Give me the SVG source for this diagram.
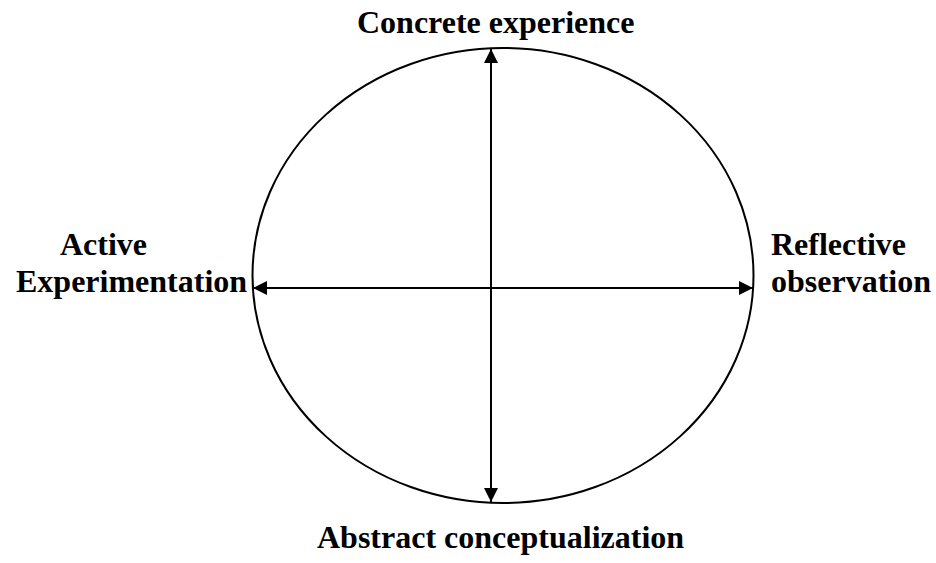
<svg xmlns="http://www.w3.org/2000/svg" width="936" height="563" viewBox="0 0 936 563">
<defs>
<style>
.lbl{font-family:"Liberation Serif","Times New Roman",serif;font-weight:bold;font-size:32px;fill:#000}
.ln{stroke:#000;stroke-width:2;fill:none}
</style>
<marker id="ah" viewBox="0 0 10 10" refX="10" refY="5" markerWidth="15" markerHeight="14" markerUnits="userSpaceOnUse" orient="auto-start-reverse">
<path d="M0,0 L10,5 L0,10 Z" fill="#000"/>
</marker>
</defs>
<g id="cycle">
<ellipse cx="503" cy="275.5" rx="250.5" ry="227.5" class="ln"/>
</g>
<g id="connectors">
<line x1="491" y1="49" x2="491" y2="502" class="ln" marker-start="url(#ah)" marker-end="url(#ah)"/>
<line x1="253" y1="288" x2="753" y2="288" class="ln" marker-start="url(#ah)" marker-end="url(#ah)"/>
</g>
<g id="concrete"><text class="lbl" x="357" y="33">Concrete experience</text></g>
<g id="active"><text class="lbl" x="60" y="255">Active</text><text class="lbl" x="16" y="292">Experimentation</text></g>
<g id="reflective"><text class="lbl" x="771" y="255">Reflective</text><text class="lbl" x="771" y="292">observation</text></g>
<g id="abstract"><text class="lbl" x="317" y="548">Abstract conceptualization</text></g>
</svg>
